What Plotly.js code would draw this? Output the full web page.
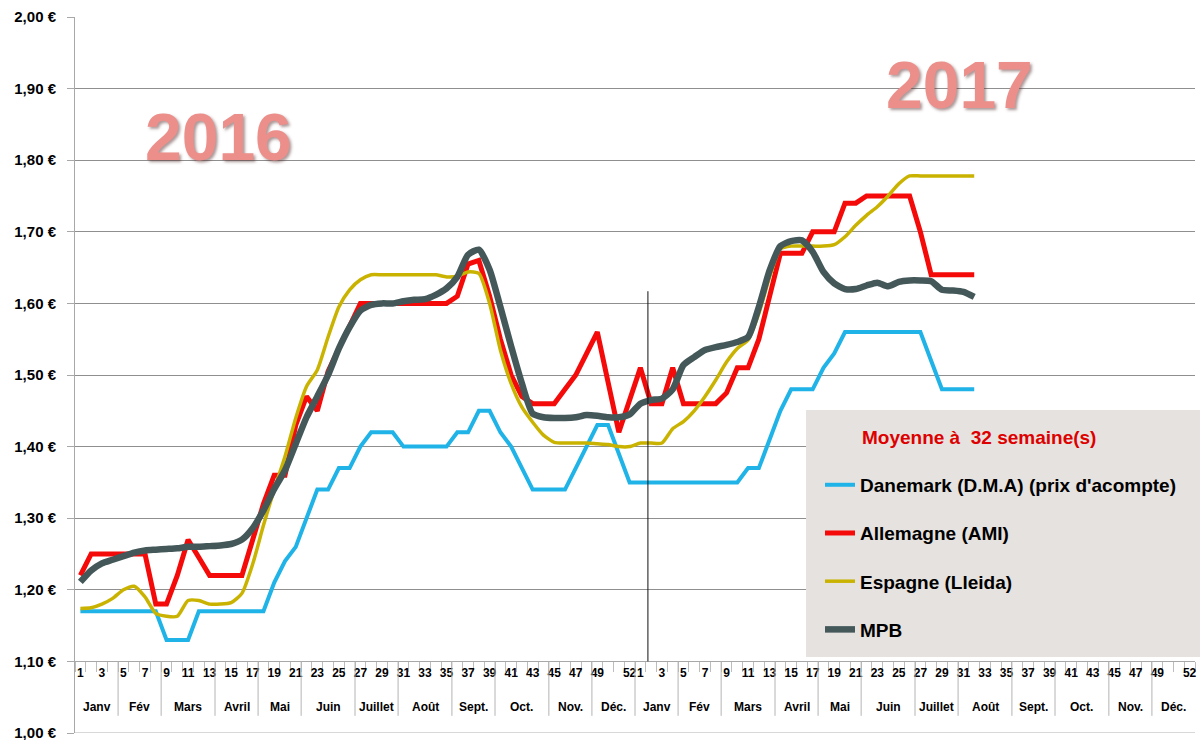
<!DOCTYPE html>
<html>
<head>
<meta charset="utf-8">
<script src="https://cdn.plot.ly/plotly-3.0.1.min.js"></script>
<style>
html,body{margin:0;padding:0;background:#fff;}
#chart{width:1200px;height:740px;}
</style>
</head>
<body>
<div id="chart"></div>
<script>
// ---- Data (prix du porc, €/kg) : semaines 2016 puis 2017 ----
const seriesNames = ["Danemark (D.M.A) (prix d'acompte)", "Allemagne (AMI)", "Espagne (Lleida)", "MPB"];

const danemark2016 = [1.17,1.17,1.17,1.17,1.17,1.17,1.17,1.17,1.13,1.13,1.13,1.17,1.17,1.17,1.17,1.17,1.17,1.17,
  1.21,1.24,1.26,1.30,1.34,1.34,1.37,1.37,1.40,1.42,1.42,1.42,1.40,1.40,1.40,1.40,1.40,1.42,1.42,1.45,1.45,1.42,
  1.40,1.37,1.34,1.34,1.34,1.34,1.37,1.40,1.43,1.43,1.39,1.35];
const danemark2017 = [1.35,1.35,1.35,1.35,1.35,1.35,1.35,1.35,1.35,1.35,1.37,1.37,1.41,1.45,1.48,1.48,1.48,1.51,1.53,
  1.56,1.56,1.56,1.56,1.56,1.56,1.56,1.56,1.52,1.48,1.48,1.48,1.48];

const allemagne2016 = [1.22,1.25,1.25,1.25,1.25,1.25,1.25,1.18,1.18,1.22,1.27,1.245,1.22,1.22,1.22,1.22,1.27,1.32,
  1.36,1.36,1.43,1.47,1.45,1.505,1.537,1.57,1.60,1.60,1.60,1.60,1.60,1.60,1.60,1.60,1.60,1.61,1.655,1.66,1.61,1.55,
  1.50,1.47,1.46,1.46,1.46,1.48,1.50,1.53,1.56,1.49,1.42,1.465];
const allemagne2017 = [1.51,1.46,1.46,1.51,1.46,1.46,1.46,1.46,1.475,1.51,1.51,1.55,1.61,1.67,1.67,1.67,1.70,1.70,1.70,
  1.74,1.74,1.75,1.75,1.75,1.75,1.75,1.70,1.64,1.64,1.64,1.64,1.64];

const espagne2016 = [1.174,1.175,1.18,1.188,1.20,1.205,1.19,1.167,1.163,1.163,1.185,1.185,1.18,1.18,1.182,1.195,1.236,1.29,
  1.34,1.386,1.44,1.484,1.507,1.553,1.595,1.619,1.633,1.64,1.64,1.64,1.64,1.64,1.64,1.64,1.637,1.638,1.644,1.642,1.60,1.535,
  1.488,1.455,1.434,1.416,1.406,1.405,1.405,1.405,1.404,1.403,1.40,1.40];
const espagne2017 = [1.405,1.405,1.405,1.425,1.435,1.45,1.47,1.493,1.518,1.537,1.549,1.586,1.637,1.676,1.68,1.68,1.68,1.68,
  1.682,1.693,1.709,1.723,1.735,1.75,1.767,1.778,1.778,1.778,1.778,1.778,1.778,1.778];

const mpb2016 = [1.211,1.227,1.237,1.242,1.247,1.252,1.255,1.256,1.257,1.258,1.26,1.26,1.261,1.262,1.264,1.27,1.286,1.311,
  1.341,1.367,1.404,1.441,1.47,1.50,1.537,1.567,1.59,1.598,1.60,1.60,1.603,1.605,1.606,1.612,1.621,1.637,1.668,1.675,1.647,1.595,
  1.54,1.488,1.446,1.441,1.44,1.44,1.441,1.444,1.443,1.441,1.441,1.445];
const mpb2017 = [1.46,1.465,1.467,1.48,1.514,1.525,1.535,1.539,1.542,1.546,1.553,1.595,1.646,1.68,1.687,1.688,1.672,1.644,
  1.628,1.62,1.62,1.625,1.629,1.624,1.63,1.632,1.632,1.631,1.619,1.618,1.616,1.609];

// ---- Axis labels ----
const labeledWeeks = [1,3,5,7,9,11,13,15,17,19,21,23,25,27,29,31,33,35,37,39,41,43,45,47,49,52];
const monthNames = ["Janv","Fév","Mars","Avril","Mai","Juin","Juillet","Août","Sept.","Oct.","Nov.","Déc."];
const monthStartWeek = [1,5,9,14,18,22,27,31,36,40,45,49];
const yearLabels = ["2016","2017"];
const legendTitle = "Moyenne à  32 semaine(s)";

// ---- Build ----
const WEEKS = 52;
const colors = ["#1fb3e8", "#f50a0a", "#c9b300", "#44585a"];
const widths = [4, 5, 3.5, 6.5];
const shapesLine = ["linear","linear","spline","spline"];
const allSeries = [
  danemark2016.concat(danemark2017),
  allemagne2016.concat(allemagne2017),
  espagne2016.concat(espagne2017),
  mpb2016.concat(mpb2017)
];

const traces = allSeries.map((vals, k) => ({
  type: "scatter",
  mode: "lines",
  name: seriesNames[k],
  legendgroup: "g" + k,
  x: vals.map((v, i) => i + 1),
  y: vals,
  line: {color: colors[k], width: widths[k], shape: shapesLine[k], smoothing: 0.6},
  hoverinfo: "y+name"
}));

const tickvals = [], ticktext = [];
for (let yr = 0; yr < 2; yr++) {
  labeledWeeks.forEach(w => { tickvals.push(yr * WEEKS + w); ticktext.push(String(w)); });
}

const baseFont = "Liberation Sans, Arial, sans-serif";
const shapes = [];
const annotations = [];
for (let yr = 0; yr < 2; yr++) {
  monthStartWeek.forEach((s, m) => {
    const x0 = yr * WEEKS + s - 0.5;
    const end = (m < monthStartWeek.length - 1) ? monthStartWeek[m + 1] - 0.5 : WEEKS + 0.5;
    const x1 = yr * WEEKS + end;
    if (!(yr === 0 && m === 0)) {
      shapes.push({type: "line", xref: "x", yref: "y", x0: x0, x1: x0, y0: 1.10, y1: 1.024,
        line: {color: "#b4b4b4", width: 1}, layer: "above"});
    }
    annotations.push({xref: "x", yref: "y", x: (x0 + x1) / 2, y: 1.036, text: monthNames[m],
      showarrow: false, font: {family: baseFont, size: 12, color: "#000", weight: "bold"}});
  });
}
// bottom grid line (1,00 €)
shapes.push({type: "line", xref: "paper", yref: "y", x0: 0, x1: 1, y0: 1.0, y1: 1.0,
  line: {color: "#b0b0b0", width: 1}, layer: "below"});
// year separator
shapes.push({type: "line", xref: "x", yref: "y", x0: 53.7, x1: 53.7, y0: 1.10, y1: 1.617,
  line: {color: "#111", width: 1}});
// legend box
shapes.push({type: "rect", xref: "paper", yref: "paper", x0: 0.6527, x1: 1.01, y0: 0.106, y1: 0.451,
  fillcolor: "#e6e2df", line: {width: 0}, layer: "above"});

// big year labels
annotations.push({xref: "x", yref: "y", x: 13.8, y: 1.832, text: yearLabels[0], showarrow: false,
  font: {family: baseFont, size: 66, color: "#ec8f8a", weight: "bold", shadow: "2px 2px 3px rgba(90,50,50,0.5)"}});
annotations.push({xref: "x", yref: "y", x: 82.6, y: 1.905, text: yearLabels[1], showarrow: false,
  font: {family: baseFont, size: 66, color: "#ec8f8a", weight: "bold", shadow: "2px 2px 3px rgba(90,50,50,0.5)"}});
// legend title
annotations.push({xref: "paper", yref: "paper", x: 0.7009, y: 0.4134, xanchor: "left", yanchor: "middle",
  text: legendTitle, showarrow: false, font: {family: baseFont, size: 19, color: "#dd0000", weight: "bold"}});

const layout = {
  width: 1200, height: 740,
  margin: {l: 75, r: 5, t: 17, b: 7},
  paper_bgcolor: "#ffffff",
  plot_bgcolor: "#ffffff",
  separators: ", ",
  showlegend: true,
  font: {family: baseFont, color: "#000"},
  xaxis: {
    type: "linear", range: [0.5, 104.5], anchor: "free", position: 0.1,
    showgrid: false, zeroline: false, showline: true, linecolor: "#a8a8a8", linewidth: 1,
    tickmode: "array", tickvals: tickvals, ticktext: ticktext, ticks: "", tickangle: 0,
    ticklabeloverflow: "allow",
    tickfont: {family: baseFont, size: 12, color: "#000", weight: "bold"},
    minor: {tickmode: "linear", tick0: 0.5, dtick: 1, ticks: "outside", ticklen: 10, tickcolor: "#bdbdbd", showgrid: false}
  },
  yaxis: {
    range: [1, 2], dtick: 0.1, tick0: 1, tickformat: ".2f", ticksuffix: " €",
    showgrid: true, gridcolor: "#8f8f8f", gridwidth: 1, zeroline: false,
    showline: true, linecolor: "#a8a8a8", ticks: "outside", ticklen: 7, tickcolor: "#a8a8a8",
    ticklabelstandoff: 8, ticklabeloverflow: "allow",
    tickfont: {family: baseFont, size: 15, color: "#000", weight: "bold"}
  },
  legend: {
    x: 0.6652, y: 0.373, xanchor: "left", yanchor: "top",
    bgcolor: "rgba(0,0,0,0)", borderwidth: 0, tracegroupgap: 20.5,
    font: {family: baseFont, size: 19, color: "#000", weight: "bold"}
  },
  shapes: shapes,
  annotations: annotations
};

Plotly.newPlot("chart", traces, layout, {displayModeBar: false, responsive: false});
</script>
</body>
</html>
